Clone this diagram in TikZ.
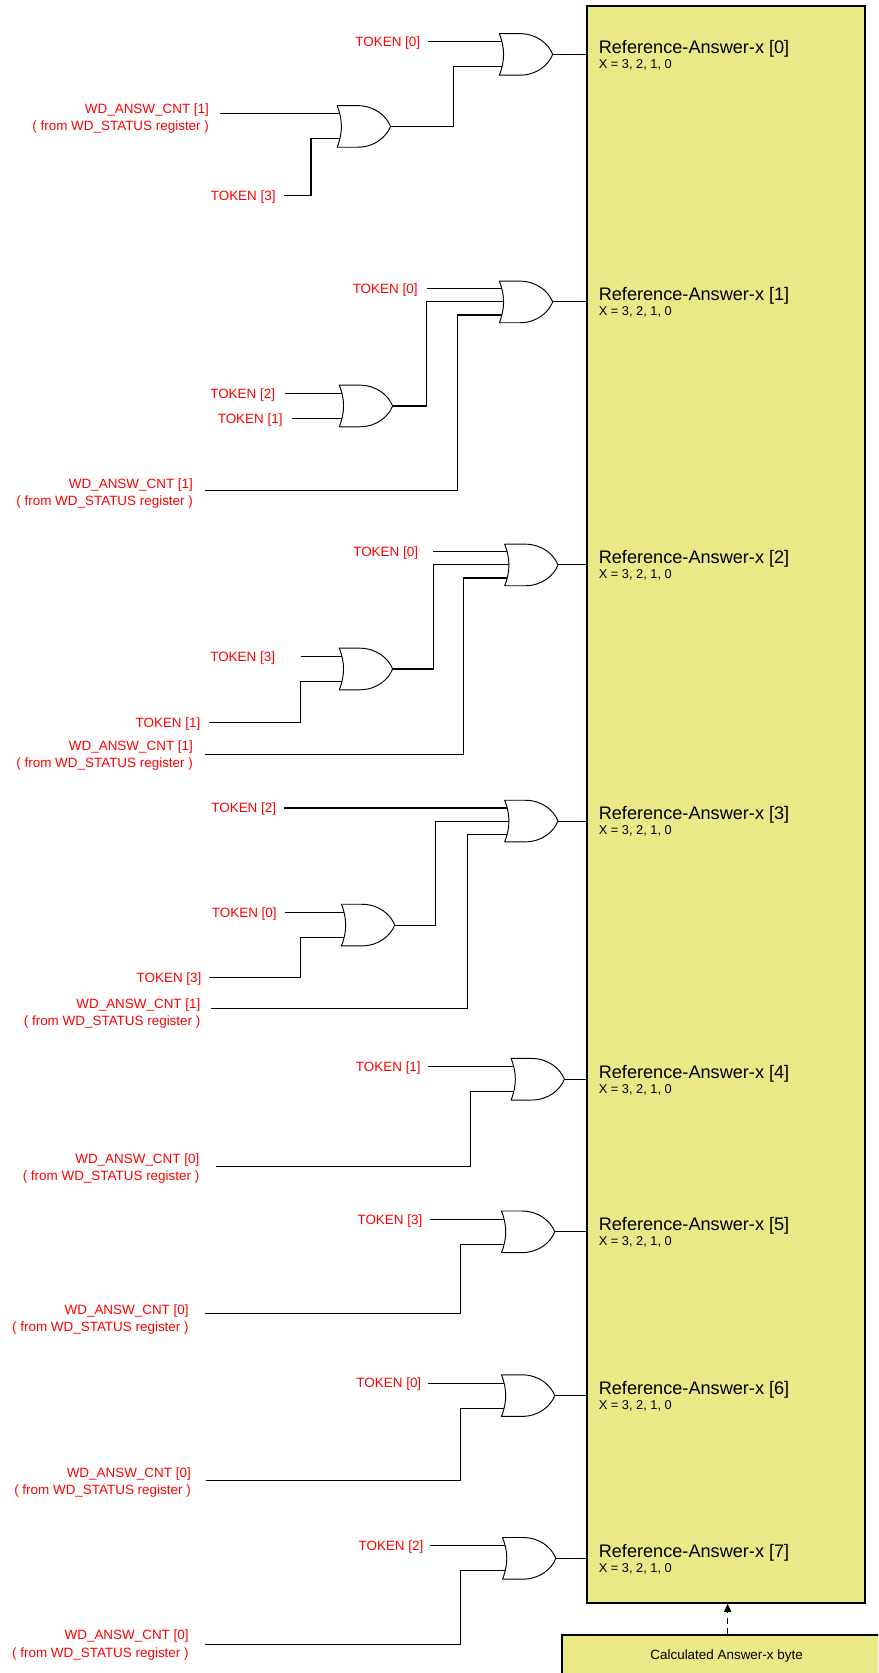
\documentclass[tikz,border=0pt]{standalone}
\usepackage{fontspec}
\setmainfont{Liberation Sans}
\usetikzlibrary{calc,arrows.meta}
\definecolor{sigred}{RGB}{255,0,0}
\definecolor{boxyellow}{RGB}{233,233,135}
\pgfdeclarelayer{wires}
\pgfsetlayers{wires,main}
\tikzset{
  gate/.style={draw=black, line width=0.9pt, fill=white, line join=round},
  wire/.style={draw=black, line width=1pt},
  tok/.style={font=\fontsize{12.6}{16}\selectfont, text=sigred, inner xsep=7pt, inner ysep=0pt, text height=9pt, text depth=0pt, anchor=east},
  wd/.style={font=\fontsize{12.6}{16}\selectfont, text=sigred, align=right, inner ysep=0pt, anchor=east},
  reflbl/.style={font=\fontsize{17}{20}\selectfont, anchor=base west, inner sep=0pt},
  xlbl/.style={font=\fontsize{12}{14}\selectfont, anchor=base west, inner sep=0pt},
  orshape/.style={gate},
  pics/org2/.style={code={
    \path[orshape] (0,0) -- (19,0) .. controls (35,0) and (46,9.5) .. (50,19.5) .. controls (46,29.5) and (35,39) .. (19,39) -- (0,39) .. controls (5.3,25.4) and (5.3,13.6) .. cycle;
    \coordinate (-in1) at (6,7.8);
    \coordinate (-in2) at (6,31.2);
    \coordinate (-out) at (50,19.5);
  }},
  pics/org3/.style={code={
    \path[orshape] (0,0) -- (19,0) .. controls (35,0) and (46,9.5) .. (50,19.5) .. controls (46,29.5) and (35,39) .. (19,39) -- (0,39) .. controls (5.3,25.4) and (5.3,13.6) .. cycle;
    \coordinate (-in1) at (6,7.3);
    \coordinate (-in2) at (6,19.5);
    \coordinate (-in3) at (6,31.7);
    \coordinate (-out) at (50,19.5);
  }},
}
\begin{document}
\begin{tikzpicture}[x=1pt,y=-1pt]
\useasboundingbox (0,0) rectangle (823,1568);
\clip (0,0) rectangle (823,1568);

% big register box
\node[draw=black, line width=2pt, fill=boxyellow, minimum width=261pt, minimum height=1496pt,
      inner sep=0pt, outer sep=0pt, anchor=north west] (refbox) at (550,6) {};
% calculated byte box
\node[draw=black, line width=2pt, fill=boxyellow, minimum width=340pt, minimum height=80pt,
      inner sep=0pt, outer sep=0pt, anchor=north west] (calcbox) at (527,1532) {};
\node[font=\fontsize{12.6}{16}\selectfont, inner sep=0pt] (calctext) at (681,1552) {Calculated Answer-x byte};
\coordinate (arrowtip) at ($(refbox.south -| 682,0)+(0,1)$);
\draw[line width=1pt, dash pattern=on 6pt off 4pt, -{Triangle[length=8pt,width=7pt]}]
  (calcbox.north -| 682,0) -- (arrowtip);

% gates
\pic (A0) at (468,31.5) {org2};
\pic (B0) at (316,99) {org2};
\pic (A1) at (468,263.5) {org3};
\pic (B1) at (318,361) {org2};
\pic (A2) at (473,510) {org3};
\pic (B2) at (318,607.5) {org2};
\pic (A3) at (473,750) {org3};
\pic (B3) at (320,847.5) {org2};
\pic (A4) at (479,992) {org2};
\pic (A5) at (470,1135) {org2};
\pic (A6) at (470,1288.5) {org2};
\pic (A7) at (471,1441) {org2};

% labels in the register box
\foreach \g/\i in {A0/0,A1/1,A2/2,A3/3,A4/4,A5/5,A6/6,A7/7}{
  \node[reflbl] (ref\i) at ($(561,0 |- \g-out)+(0,-1)$) {Reference-Answer-x [\i]};
  \node[xlbl] (xv\i) at ($(ref\i.base west)+(0,14)$) {X = 3, 2, 1, 0};
}

% input labels
\node[tok] (t00) at (401,0 |- A0-in1) {TOKEN [0]};
\node[wd, inner xsep=10pt] (w01) at (206,111.5) {WD\_ANSW\_CNT [1]\\( from WD\_STATUS register )};
\node[tok, inner xsep=7.5pt] (t03) at (266,183.5) {TOKEN [3]};

\node[tok, inner xsep=8.5pt] (t10) at (400,0 |- A1-in1) {TOKEN [0]};
\node[tok, inner xsep=9pt] (t12) at (267,0 |- B1-in1) {TOKEN [2]};
\node[tok, inner xsep=9pt] (t11) at (274,0 |- B1-in2) {TOKEN [1]};
\node[wd, inner xsep=11pt] (w11) at (192,462.75) {WD\_ANSW\_CNT [1]\\( from WD\_STATUS register )};

\node[tok, inner xsep=14pt] (t20) at (406,0 |- A2-in1) {TOKEN [0]};
\node[tok, inner xsep=24pt] (t23) at (282,0 |- B2-in1) {TOKEN [3]};
\node[tok, inner xsep=8pt] (t21) at (196,677.5) {TOKEN [1]};
\node[wd, inner xsep=11pt] (w21) at (192,707.75) {WD\_ANSW\_CNT [1]\\( from WD\_STATUS register )};

\node[tok] (t32) at (266,0 |- A3-in1) {TOKEN [2]};
\node[tok, inner xsep=7.5pt] (t30) at (267,0 |- B3-in1) {TOKEN [0]};
\node[tok] (t33) at (196,916.5) {TOKEN [3]};
\node[wd, inner xsep=10pt] (w31) at (198,949.75) {WD\_ANSW\_CNT [1]\\( from WD\_STATUS register )};

\node[tok, inner xsep=6.5pt] (t41) at (401,0 |- A4-in1) {TOKEN [1]};
\node[wd, inner xsep=15pt] (w40) at (202,1094.75) {WD\_ANSW\_CNT [0]\\( from WD\_STATUS register )};

\node[tok] (t53) at (403,0 |- A5-in1) {TOKEN [3]};
\node[wd, inner xsep=15pt] (w50) at (192,1236.75) {WD\_ANSW\_CNT [0]\\( from WD\_STATUS register )};

\node[tok, inner xsep=6pt] (t60) at (401,0 |- A6-in1) {TOKEN [0]};
\node[wd, inner xsep=14pt] (w60) at (193,1389.75) {WD\_ANSW\_CNT [0]\\( from WD\_STATUS register )};

\node[tok, inner xsep=6pt] (t72) at (403,0 |- A7-in1) {TOKEN [2]};
\node[wd, inner xsep=15pt] (w70) at (192,1541.75) {WD\_ANSW\_CNT [0]\\( from WD\_STATUS register )};

\begin{pgfonlayer}{wires}
  % group 0
  \draw[wire] (t00.east) -- (A0-in1);
  \draw[wire] (w01.east |- B0-in1) -- (B0-in1);
  \draw[wire] (t03.east) -| (291.5,0 |- B0-in2) -- (B0-in2);
  \draw[wire] (B0-out) -| (425,0 |- A0-in2) -- (A0-in2);
  % group 1
  \draw[wire] (t10.east) -- (A1-in1);
  \draw[wire] (t12.east) -- (B1-in1);
  \draw[wire] (t11.east) -- (B1-in2);
  \draw[wire] (B1-out) -| (400,0 |- A1-in2) -- (A1-in2);
  \draw[wire] (w11.east |- 0,460) -| (429,0 |- A1-in3) -- (A1-in3);
  % group 2
  \draw[wire] (t20.east) -- (A2-in1);
  \draw[wire] (t23.east) -- (B2-in1);
  \draw[wire] (t21.east) -| (282,0 |- B2-in2) -- (B2-in2);
  \draw[wire] (B2-out) -| (406.5,0 |- A2-in2) -- (A2-in2);
  \draw[wire] (w21.east |- 0,707.5) -| (434.5,0 |- A2-in3) -- (A2-in3);
  % group 3
  \draw[wire] (t32.east) -- (A3-in1);
  \draw[wire] (t30.east) -- (B3-in1);
  \draw[wire] (t33.east) -| (282,0 |- B3-in2) -- (B3-in2);
  \draw[wire] (B3-out) -| (408.5,0 |- A3-in2) -- (A3-in2);
  \draw[wire] (w31.east |- 0,945) -| (438,0 |- A3-in3) -- (A3-in3);
  % groups 4-7
  \draw[wire] (t41.east) -- (A4-in1);
  \draw[wire] (w40.east |- 0,1093) -| (441,0 |- A4-in2) -- (A4-in2);
  \draw[wire] (t53.east) -- (A5-in1);
  \draw[wire] (w50.east |- 0,1231) -| (432,0 |- A5-in2) -- (A5-in2);
  \draw[wire] (t60.east) -- (A6-in1);
  \draw[wire] (w60.east |- 0,1388) -| (432,0 |- A6-in2) -- (A6-in2);
  \draw[wire] (t72.east) -- (A7-in1);
  \draw[wire] (w70.east |- 0,1541) -| (432,0 |- A7-in2) -- (A7-in2);
  % outputs to the register box
  \foreach \g in {A0,A1,A2,A3,A4,A5,A6,A7}{
    \draw[wire] (\g-out) -- (\g-out -| refbox.west);
  }
\end{pgfonlayer}
\end{tikzpicture}
\end{document}
